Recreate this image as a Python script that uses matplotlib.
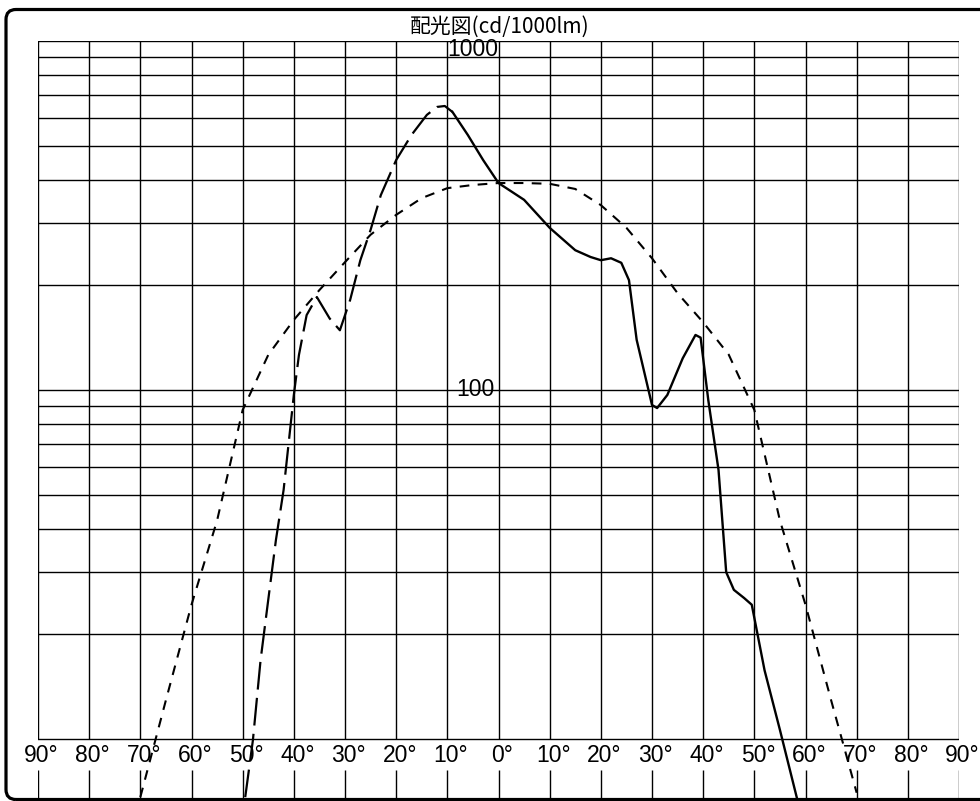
import numpy as np
import matplotlib
matplotlib.use("Agg")
import matplotlib.pyplot as plt
from matplotlib.patches import FancyBboxPatch
from matplotlib.transforms import IdentityTransform

plt.rcParams['lines.scale_dashes'] = False

# angles (deg, negative = left half) and intensities (cd/1000lm)
wide_ang = [-70, -65, -60, -55, -50, -45, -40, -35, -30, -25, -20, -15, -10, -5,
            0, 5, 10, 15, 20, 25, 30, 35, 40, 45, 50, 55, 60, 65, 70]
wide_val = [6.8, 12.9, 24.2, 42.2, 87.5, 125.8, 158.5, 193, 232, 278, 317, 354, 378, 386,
            391, 391, 389, 376, 338, 291, 238, 189, 156, 126, 87.5, 42.2, 24.2, 12.9, 7.0]

left_ang = [-49.5, -48, -46.5, -45, -43.5, -42, -40, -39, -37.5, -35.5, -33, -31,
            -29, -27, -25, -23, -20, -17, -14, -12, -10.5, -9]
left_val = [6.8, 9.9, 16.8, 25, 37.1, 51.6, 96.6, 125.8, 163.6, 184.3, 160, 148,
            180.7, 235, 287, 361, 455, 537, 613, 646, 650, 625]

right_ang = [-9, -6, -3, 0, 5, 10, 15, 18, 20, 22, 24, 25.5, 27, 30, 31, 33, 36,
             38.5, 39.5, 41, 43, 44.5, 46, 48, 49.5, 52, 55, 58.5]
right_val = [625, 537, 455, 391, 350, 291, 251, 240, 235, 238, 231, 206, 139, 90.4,
             88.6, 96.6, 123, 143.5, 141, 93.4, 58.9, 30.0, 26.7, 25.3, 24.2, 15.7,
             10.6, 6.6]

angle_ticks = list(range(-90, 91, 10))
grid_vals = list(range(10, 100, 10)) + list(range(100, 1001, 100))

W, H = 980, 801
fig = plt.figure(figsize=(W / 100, H / 100), dpi=100)
ymin = 10 ** (3 - (800 - 40.7) / 349)
ax = fig.add_axes([38 / W, 1 / H, (959 - 38) / W, (800 - 40.7) / H])
ax.set_xlim(-90, 90)
ax.set_yscale('log')
ax.set_ylim(ymin, 1000)
ax.axis('off')

# grid
for v in grid_vals:
    ax.axhline(v, color='black', lw=1.0, zorder=1)
label_y = 10 ** (1 - (755 - 738.3) / 349)
low_y = 10 ** (1 - (770 - 738.3) / 349)
ax.vlines(angle_ticks, 10, 1000, color='black', lw=1.0, zorder=1)
ax.vlines(angle_ticks, ymin, low_y, color='black', lw=1.0, zorder=1)

num_font = ['Liberation Sans', 'DejaVu Sans']
for a in angle_ticks:
    ax.text(a + 0.7, label_y, f"{abs(a)}°", ha='center', va='center',
            fontsize=16.5, family=num_font, zorder=2)
ax.text(-5, 10 ** (3 - (50 - 40.7) / 349), "1000", ha='center', va='center',
        fontsize=16.5, family=num_font, zorder=2)
ax.text(-4.5, 100, "100", ha='center', va='center', fontsize=16.5, family=num_font, zorder=2)

# curves
ax.plot(wide_ang, wide_val, color='black', lw=1.5, dashes=(7, 6), zorder=3)
ax.plot(left_ang, left_val, color='black', lw=1.6, dashes=(20, 6), zorder=3)
ax.plot(right_ang, right_val, color='black', lw=1.7, zorder=3)

fig.text(500 / W, 1 - 27 / H, "配光図(cd/1000lm)", ha='center', va='center',
         fontsize=15, family=['Noto Sans CJK JP', 'DejaVu Sans'])

frame = FancyBboxPatch((6, 1.5), 1010, 790, boxstyle="round,pad=0,rounding_size=10",
                       transform=IdentityTransform(), fill=False, lw=2.3,
                       edgecolor='black')
fig.patches.append(frame)

fig.savefig("out.png", dpi=100)
